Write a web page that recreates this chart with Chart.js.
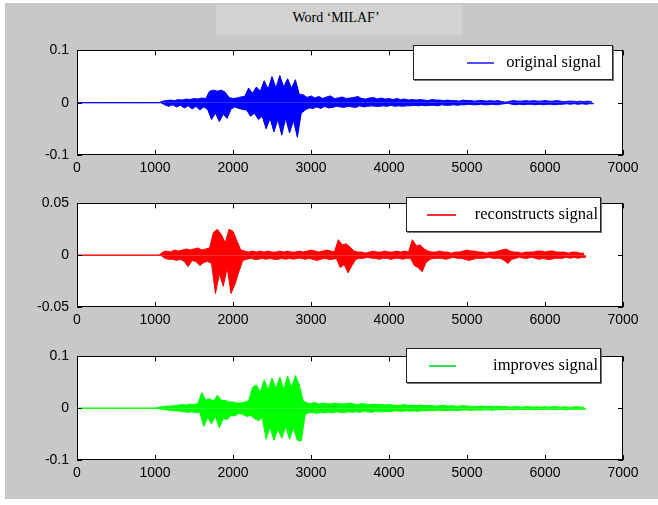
<!DOCTYPE html>
<html>
<head>
<meta charset="utf-8">
<script src="https://cdn.jsdelivr.net/npm/chart.js@4.4.1/dist/chart.umd.min.js"></script>
<style>
  html, body { margin: 0; padding: 0; background: #fff; }
  #fig { position: relative; width: 658px; height: 505px; overflow: hidden; }
  #bg { position: absolute; left: 5px; top: 3px; right: 0; bottom: 6px; background: #c8c8c8; }
  #titleBox { position: absolute; left: 216px; top: 5px; width: 246px; height: 30px; background: #d2d2d2; }
  #title { position: absolute; left: 216px; top: 10px; width: 240px; text-align: center;
           font: 14px "Liberation Serif", serif; color: #000; }
  canvas { position: absolute; left: 0; }
  .legend { position: absolute; background: #fff; border: 1px solid #222; box-shadow: 1px 1px 0 #777;
            height: 35px; box-sizing: border-box; font: 16.5px "Liberation Serif", serif; color: #000; }
  .legend .swatch { position: absolute; top: 16px; height: 2px; }
  .legend .txt { position: absolute; top: 6px; white-space: nowrap; }
</style>
</head>
<body>
<div id="fig">
  <div id="bg"></div>
  <div id="titleBox"></div>
  <div id="title">Word ‘MILAF’</div>

  <canvas id="c1" width="658" height="143" style="top:34px"></canvas>
  <canvas id="c2" width="658" height="142" style="top:187px"></canvas>
  <canvas id="c3" width="658" height="142" style="top:340px"></canvas>

  <div class="legend" style="left:413px; top:45px; width:200px;">
    <div class="swatch" style="left:53px; width:27px; background:#5050ff;"></div>
    <div class="txt" style="right:11px;">original signal</div>
  </div>
  <div class="legend" style="left:406px; top:197px; width:195px;">
    <div class="swatch" style="left:20px; width:29px; background:#ff3030;"></div>
    <div class="txt" style="right:2px;">reconstructs signal</div>
  </div>
  <div class="legend" style="left:406px; top:348px; width:195px;">
    <div class="swatch" style="left:22px; width:27px; background:#30e050;"></div>
    <div class="txt" style="right:2px;">improves signal</div>
  </div>
</div>

<script>
// upper / lower envelope of each signal, one value per bin of 50 samples, in units of 1e-3
const binWidth = 50;
const xTicks = [0, 1000, 2000, 3000, 4000, 5000, 6000, 7000];

const originalTop = [
  0,0,0,0,0,0,0,0,0,0, 0,0,0,0,0,0,0,0,0,0, 0,0,
  3,4,5,4,6,5,7,6,8,7,9,8,
  22,24,22,24,20,
  10,8,9,11,
  12,28,18,30,22,42,26,50,28,52,30,46,28,44,16,
  15,10,13,9,12,8,11,13,8,9,11,8,9,10,12,8,7,9,10,7,9,7,8,6,8,
  6,7,5,6,5,6,5,4,6,5,5,4,5, 4,4,3,5,4,4,3,4,4,3,4,3,4, 2,1,
  3,4,3,3,4,3,4,3,3,4,3,3,4, 3,2,3,3,2,3,2,3,2
];
const originalBottom = [
  0,0,0,0,0,0,0,0,0,0, 0,0,0,0,0,0,0,0,0,0, 0,0,
  -4,-7,-4,-8,-5,-10,-6,-12,-7,-14,-8,-13,
  -32,-20,-36,-22,-30,
  -12,-8,-11,-13,
  -14,-26,-20,-32,-26,-50,-30,-56,-32,-62,-30,-58,-34,-66,-20,
  -14,-10,-11,-8,-11,-7,-10,-9,-7,-8,-9,-7,-8,-9,-6,-8,-7,-6,-7,-7,-6,-7,-5,-7,-6,
  -7,-6,-6,-5,-6,-5,-6,-5,-5,-6,-4,-5,-5, -4,-5,-4,-4,-3,-4,-4,-3,-4,-4,-3,-4,-3, -2,-1,
  -3,-4,-3,-4,-3,-3,-4,-3,-4,-3,-3,-4,-3, -3,-2,-3,-2,-3,-2,-3,-2,-2
];

const reconTop = [
  0,0,0,0,0,0,0,0,0,0, 0,0,0,0,0,0,0,0,0,0, 0,0,
  3,4,3,5,4,5,6,5,6,7,5,6,7,
  22,25,20,12,25,23,14,
  5,4,3,4,3,4,3,4,3,3,4,3,4,3,3,4,3,4,5,4,3,4,5,4,3,
  15,10,11,8,
  4,3,3,2,3,4,3,3,4,3,3,4,3,4,3,
  15,9,10,6,
  4,3,3,4,3,3,2,3,3,4, 5,4,4, 3,3,2,3,3,4, 5,6,4, 3,3,2,3,3,3, 4,4,3,4,4,3, 3,3,2,3,3,2,2
];
const reconBottom = [
  0,0,0,0,0,0,0,0,0,0, 0,0,0,0,0,0,0,0,0,0, 0,0,
  -3,-4,-4,-5,-4,-6,-11,-5,-6,-10,-7,-6,-8,
  -37,-18,-30,-12,-37,-28,-16,
  -5,-4,-3,-4,-4,-3,-4,-3,-4,-4,-3,-4,-3,-4,-3,-3,-4,-3,-4,-5,-4,-3,-4,-4,-3,
  -12,-9,-17,-10,
  -4,-3,-3,-2,-3,-3,-4,-3,-3,-4,-3,-3,-4,-3,-3,
  -10,-12,-16,-7,
  -4,-3,-3,-3,-4,-3,-2,-3,-3,-4, -5,-4,-3, -3,-3,-2,-3,-3,-3, -5,-8,-4, -3,-2,-3,-3,-2,-3,
  -4,-3,-4,-4,-3,-3, -3,-2,-3,-2,-3,-2,-2
];

const improvedTop = [
  0,0,0,0,0,0,0,0,0,0, 0,0,0,0,0,0,0,0,0,0, 0,
  2,3,4,4,5,6,7,6,8,7,9,
  30,16,18,14,25,15,15,12,12,10,
  10,12,14,
  40,45,30,
  55,35,58,38,60,36,62,40,63,45,
  14,10,9,11,8,10,9,8,10,9,8,9,10,8,7,9,8,7,8,7,
  7,6,7,6,5,6,7,5,6,5,6,5,5,
  5,4,5,6,4,5,4,4,5,4,4,3,4,4,3,4,3,4,
  3,3,2,3,3,2,3,3,2,3,2,3,2,3,3,2,3,2,2,3,2,2
];
const improvedBottom = [
  0,0,0,0,0,0,0,0,0,0, 0,0,0,0,0,0,0,0,0,0, 0,
  -2,-3,-4,-5,-5,-6,-7,-8,-7,-9,-8,
  -35,-18,-30,-16,-38,-20,-22,-14,-15,-10,
  -12,-16,-14,
  -20,-24,-18,
  -60,-36,-62,-40,-58,-35,-60,-38,-62,-63,
  -12,-9,-8,-10,-8,-9,-8,-9,-7,-8,-9,-7,-8,-7,-8,-6,-7,-8,-6,-7,
  -7,-6,-7,-5,-6,-6,-5,-6,-5,-6,-5,-5,-4,
  -5,-4,-4,-5,-4,-4,-5,-4,-3,-4,-4,-3,-4,-3,-3,-4,-3,-3,
  -3,-2,-3,-3,-2,-3,-2,-3,-3,-2,-3,-2,-2,-3,-2,-2,-3,-2,-2,-2,-2,-2
];

function toPoints(vals, offset) {
  return vals.map((v, i) => ({ x: i * binWidth + offset, y: v / 1000 }));
}

const matlabAxes = {
  id: 'matlabAxes',
  beforeDraw(chart) {
    const { ctx, chartArea: a } = chart;
    ctx.save();
    ctx.fillStyle = '#fff';
    ctx.fillRect(a.left, a.top, a.width, a.height);
    ctx.restore();
  },
  afterDraw(chart) {
    const { ctx, chartArea: a, scales } = chart;
    const x = scales.x, y = scales.y;
    ctx.save();
    ctx.strokeStyle = '#000';
    ctx.lineWidth = 1;
    ctx.beginPath();
    x.ticks.forEach((t, i) => {
      const px = Math.round(x.getPixelForTick(i)) + 0.5;
      ctx.moveTo(px, a.top); ctx.lineTo(px, a.top + 5);
      ctx.moveTo(px, a.bottom); ctx.lineTo(px, a.bottom - 5);
    });
    y.ticks.forEach((t, i) => {
      const py = Math.round(y.getPixelForTick(i)) + 0.5;
      ctx.moveTo(a.left, py); ctx.lineTo(a.left + 5, py);
      ctx.moveTo(a.right, py); ctx.lineTo(a.right - 5, py);
    });
    ctx.stroke();
    ctx.strokeRect(Math.round(a.left) + 0.5, Math.round(a.top) + 0.5,
                   Math.round(a.width) - 1, Math.round(a.height) - 1);
    ctx.restore();
  }
};

function envelopeSet(vals, offset, color) {
  return {
    data: toPoints(vals, offset),
    borderColor: color,
    backgroundColor: color,
    borderWidth: 1,
    pointRadius: 0,
    tension: 0,
    fill: 'origin'
  };
}

function makeChart(id, top, bottom, color, yMax, yStep, fmt) {
  return new Chart(document.getElementById(id), {
    type: 'line',
    data: {
      datasets: [envelopeSet(top, 0, color), envelopeSet(bottom, binWidth / 2, color)]
    },
    options: {
      responsive: false,
      animation: false,
      events: [],
      layout: { padding: { left: 0, right: 35, top: 8, bottom: 0 } },
      plugins: { legend: { display: false }, tooltip: { enabled: false } },
      scales: {
        x: {
          type: 'linear',
          min: 0, max: 7000,
          afterBuildTicks: s => { s.ticks = xTicks.map(v => ({ value: v })); },
          afterFit: s => { s.height = 22; },
          grid: { display: false, drawTicks: false },
          border: { display: false },
          ticks: { padding: 5, maxRotation: 0, autoSkip: false, color: '#000',
                   callback: v => String(v),
                   font: { family: 'Liberation Sans', size: 14 } }
        },
        y: {
          min: -yMax, max: yMax,
          ticks: { stepSize: yStep, padding: 8, color: '#000', callback: fmt,
                   font: { family: 'Liberation Sans', size: 14 } },
          afterFit: s => { s.width = 77; },
          grid: { display: false, drawTicks: false },
          border: { display: false }
        }
      }
    },
    plugins: [matlabAxes]
  });
}

const fmt1 = v => v === 0 ? '0' : v.toFixed(1);
const fmt2 = v => v === 0 ? '0' : v.toFixed(2);

makeChart('c1', originalTop, originalBottom, '#0000ff', 0.1, 0.1, fmt1);
makeChart('c2', reconTop, reconBottom, '#ff0000', 0.05, 0.05, fmt2);
makeChart('c3', improvedTop, improvedBottom, '#00ff00', 0.1, 0.1, fmt1);
</script>
</body>
</html>
